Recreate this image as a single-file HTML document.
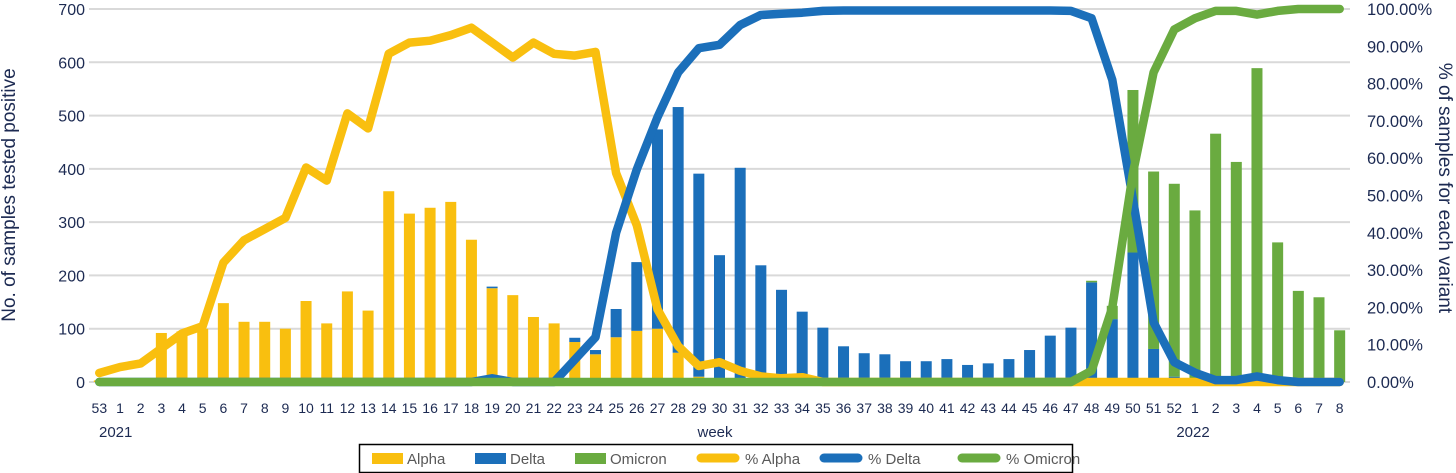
<!DOCTYPE html>
<html><head><meta charset="utf-8"><style>
body{margin:0;background:#fff;}
svg{display:block;font-family:"Liberation Sans",sans-serif;}
</style></head><body>
<svg id="chart" width="1456" height="473">
<g id="grid"></g>
<g id="bars"></g>
<g id="lines"></g>
<g id="axes"></g>
<text x="15" y="195" transform="rotate(-90 15 195)" text-anchor="middle" font-size="19" fill="#1c2a52">No. of samples tested positive</text>
<text x="1439" y="188" transform="rotate(90 1439 188)" text-anchor="middle" font-size="19" fill="#1c2a52">% of samples for each variant</text>
<text x="99" y="437" font-size="15" fill="#1c2a52">2021</text>
<text x="715" y="437" text-anchor="middle" font-size="15" fill="#1c2a52">week</text>
<text x="1193" y="437" text-anchor="middle" font-size="15" fill="#1c2a52">2022</text>
<g>
<rect x="359.5" y="444.5" width="713" height="28" fill="none" stroke="#000" stroke-width="1.5"/>
<rect x="372" y="453" width="31" height="11" fill="#f9bf0f"/>
<text x="407" y="464" font-size="15" fill="#595959">Alpha</text>
<rect x="475" y="453" width="31" height="11" fill="#1b6fba"/>
<text x="510" y="464" font-size="15" fill="#595959">Delta</text>
<rect x="575" y="453" width="31" height="11" fill="#6aab40"/>
<text x="610" y="464" font-size="15" fill="#595959">Omicron</text>
<line x1="701" y1="458" x2="735" y2="458" stroke="#f9bf0f" stroke-width="9" stroke-linecap="round"/>
<text x="745" y="464" font-size="15" fill="#595959">% Alpha</text>
<line x1="824" y1="458" x2="858" y2="458" stroke="#1b6fba" stroke-width="9" stroke-linecap="round"/>
<text x="868" y="464" font-size="15" fill="#595959">% Delta</text>
<line x1="962" y1="458" x2="996" y2="458" stroke="#6aab40" stroke-width="9" stroke-linecap="round"/>
<text x="1006" y="464" font-size="15" fill="#595959">% Omicron</text>
</g>
</svg>
<script>
const weeks=["53","1","2","3","4","5","6","7","8","9","10","11","12","13","14","15","16","17","18","19","20","21","22","23","24","25","26","27","28","29","30","31","32","33","34","35","36","37","38","39","40","41","42","43","44","45","46","47","48","49","50","51","52","1","2","3","4","5","6","7","8"];
const alpha=[3,3,5,92,95,100,148,113,113,100,152,110,170,134,358,316,327,338,267,176,163,122,110,75,52,84,96,100,55,10,0,0,0,0,0,0,0,0,0,0,0,0,0,0,0,0,0,0,0,0,0,0,0,0,0,0,0,0,0,0,0];
const delta=[0,0,0,0,0,0,0,0,0,0,0,0,0,0,0,0,0,0,0,3,0,0,0,8,8,53,129,374,461,381,238,402,219,173,132,102,67,54,52,39,39,43,32,35,43,60,87,102,187,118,243,62,10,0,0,0,0,0,0,0,0];
const omicron=[0,0,0,0,0,0,0,0,0,0,0,0,0,0,0,0,0,0,0,0,0,0,0,0,0,0,0,0,0,0,0,0,0,0,0,0,0,0,0,0,0,0,0,0,0,0,0,0,3,25,305,333,362,322,466,413,589,262,171,159,97];
const pctAlpha=[2.4,4,5,9,13,15,32,38,41,44,57.5,54,72,68,88,91,91.5,93,95,91,87,91,88,87.5,88.5,56,42,19.5,9.6,4.3,5.3,3,1.5,1,1.3,0,0,0,0,0,0,0,0,0,0,0,0,0,0,0,0,0,0,0,0,0,0,0,0,0,0];
const pctDelta=[0,0,0,0,0,0,0,0,0,0,0,0,0,0,0,0,0,0,0,1,0,0,0,6,12,40,57,71,83,89.5,90.4,95.7,98.4,98.7,99,99.5,99.6,99.6,99.6,99.6,99.6,99.6,99.6,99.6,99.6,99.6,99.6,99.5,97.5,81,49,16,5.3,2.5,0.5,0.5,1.5,0.5,0,0,0];
const pctOmicron=[0,0,0,0,0,0,0,0,0,0,0,0,0,0,0,0,0,0,0,0,0,0,0,0,0,0,0,0,0,0,0,0,0,0,0,0,0,0,0,0,0,0,0,0,0,0,0,0,3,20,56,83,94.5,97.5,99.5,99.5,98.5,99.5,100,100,100];
const leftTicks=[0,100,200,300,400,500,600,700];
const rightTicks=["0.00%","10.00%","20.00%","30.00%","40.00%","50.00%","60.00%","70.00%","80.00%","90.00%","100.00%"];

const NS="http://www.w3.org/2000/svg";
const X0=89,X1=1350,Y0=382,Ytop=9;
const step=(X1-X0)/weeks.length;
const xc=i=>X0+step*(i+0.5);
const yL=v=>Y0-(v/700)*(Y0-Ytop);
const yR=p=>Y0-(p/100)*(Y0-Ytop);
function mk(tag,attrs,parent){const e=document.createElementNS(NS,tag);for(const k in attrs)e.setAttribute(k,attrs[k]);parent.appendChild(e);return e;}
const grid=document.getElementById('grid'),bars=document.getElementById('bars'),lines=document.getElementById('lines'),axes=document.getElementById('axes');
leftTicks.forEach(v=>{
  const l=mk('line',{x1:X0,x2:X1,y1:yL(v),y2:yL(v),stroke:'#d9d9d9','stroke-width':2},grid);
  
  
  const t=mk('text',{x:85,y:yL(v)+6,'text-anchor':'end','font-size':16,fill:'#1c2a52'},axes);
  t.textContent=v;
  
  
});
rightTicks.forEach((s,i)=>{
  const t=mk('text',{x:1367,y:yR(i*10)+6,'font-size':16.5,fill:'#1c2a52'},axes);
  t.textContent=s;
  
  
});
weeks.forEach((w,i)=>{
  const t=mk('text',{x:xc(i),y:413,'text-anchor':'middle','font-size':14,fill:'#1c2a52'},axes);
  t.textContent=w;
  
  
});
const bw=11;
weeks.forEach((w,i)=>{
  let base=0;
  [[alpha,'#f9bf0f','bar-alpha'],[delta,'#1b6fba','bar-delta'],[omicron,'#6aab40','bar-omicron']].forEach(([arr,c,n])=>{
    const v=arr[i]; if(v<=0)return;
    const r=mk('rect',{x:xc(i)-bw/2,y:yL(base+v),width:bw,height:yL(base)-yL(base+v),fill:c},bars);
    
    
    base+=v;
  });
});
[[pctAlpha,'#f9bf0f','line-pct-alpha'],[pctDelta,'#1b6fba','line-pct-delta'],[pctOmicron,'#6aab40','line-pct-omicron']].forEach(([arr,c,n])=>{
  const d=arr.map((p,i)=>(i?'L':'M')+xc(i).toFixed(1)+' '+yR(p).toFixed(1)).join(' ');
  const p=mk('path',{d:d,fill:'none',stroke:c,'stroke-width':8.5,'stroke-linejoin':'round','stroke-linecap':'round'},lines);
  
  
});
</script>
</body></html>
